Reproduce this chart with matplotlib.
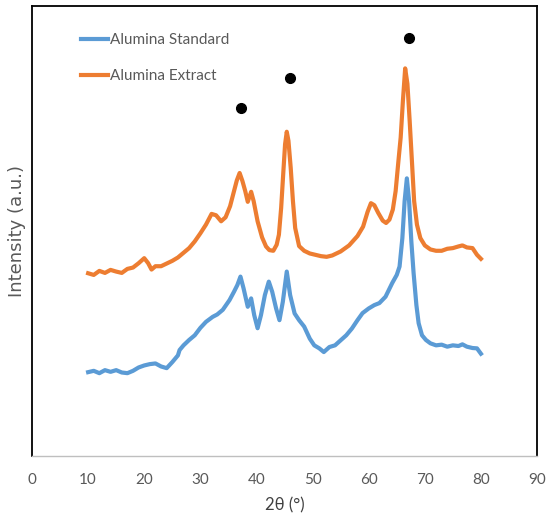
import matplotlib.pyplot as plt

# 2theta positions and intensities (arbitrary units)
extract_x = [10, 11, 12, 13, 14, 15, 16, 17, 18, 19, 20, 20.7, 21.3, 22, 23, 24, 25, 26, 27,
             28, 29, 30, 31, 32, 32.8, 33.7, 34.5, 35.3, 36, 36.5, 37, 37.5, 38, 38.45, 39.05,
             39.5, 40.2, 41, 41.7, 42.3, 43, 43.6, 44, 44.4, 44.8, 45.1, 45.4, 45.7, 46.1,
             46.5, 46.9, 47.6, 48.5, 49.5, 50.5, 51.5, 52.5, 53.5, 55, 56.5, 58, 59, 59.8,
             60.4, 61, 61.7, 62.5, 63.1, 63.7, 64.3, 64.8, 65.3, 65.7, 66.1, 66.5, 66.9,
             67.3, 67.7, 68.1, 68.6, 69.2, 70, 71, 72, 73, 74, 75, 76, 76.7, 77.5, 78.5,
             79.3, 80]
extract_y = [545, 540, 552, 546, 555, 550, 546, 558, 562, 575, 590, 575, 556, 566, 566, 574,
             582, 592, 606, 620, 640, 664, 690, 722, 718, 700, 712, 745, 790, 822, 844, 820,
             790, 758, 788, 760, 700, 652, 625, 614, 612, 630, 660, 740, 850, 930, 967, 940,
             860, 760, 680, 626, 612, 604, 600, 596, 594, 598, 610, 628, 656, 684, 728, 754,
             748, 725, 702, 695, 705, 735, 790, 880, 950, 1060, 1156, 1110, 1000, 880, 760,
             690, 650, 628, 616, 612, 612, 618, 620, 625, 628, 622, 620, 600, 588]

standard_x = [10, 11, 12, 13, 14, 15, 16, 17, 18, 19, 20, 21, 22, 23, 24, 25, 26, 26.3, 27,
              28, 29, 30, 31, 32.2, 33, 34, 35.2, 36, 36.6, 37.15, 37.7, 38.45, 39.05, 39.6,
              40.2, 40.8, 41.5, 42.2, 42.8, 43.5, 44.1, 44.7, 45.4, 46, 46.8, 47.6, 48.5,
              49.5, 50.3, 51.2, 52, 53, 54, 55, 56, 57, 58, 58.9, 60, 61, 61.9, 63, 64.2,
              65, 65.5, 66, 66.4, 66.8, 67.2, 67.6, 68, 68.5, 68.9, 69.5, 70.2, 71, 72, 73,
              74, 75, 76, 76.7, 77.5, 78.5, 79.3, 80]
standard_y = [250, 254, 247, 256, 251, 256, 249, 247, 254, 264, 270, 274, 276, 267, 262, 280,
              300, 316, 330, 346, 360, 382, 400, 415, 422, 436, 465, 490, 510, 535, 500, 445,
              470, 420, 381, 420, 480, 520, 490, 440, 405, 460, 550, 480, 425, 405, 386, 350,
              330, 321, 310, 325, 330, 345, 360, 380, 405, 426, 440, 450, 456, 475, 516, 540,
              565, 650, 760, 828, 760, 640, 546, 450, 396, 360, 346, 336, 330, 332, 326, 330,
              328, 333, 326, 322, 321, 305]

peak_x = [37.2, 45.9, 67.2]
peak_y = [1038, 1127, 1247]

x_ticks = list(range(0, 91, 10))

fig = plt.figure(figsize=(5.48, 5.24), dpi=100)
ax = fig.add_axes([0.0584, 0.1298, 0.9216, 0.8587])

ax.plot(standard_x, standard_y, color='#5B9BD5', lw=3, label='Alumina Standard')
ax.plot(extract_x, extract_y, color='#ED7D31', lw=3, label='Alumina Extract')
ax.plot(peak_x, peak_y, 'o', color='black', ms=7, label='_nolegend_')

ax.set_xlim(0, 90)
ax.set_ylim(0, 1342)
ax.set_xticks(x_ticks)
ax.set_yticks([])
ax.tick_params(axis='x', length=0, pad=12, labelcolor='#595959', labelsize=11)
for lab in ax.get_xticklabels():
    lab.set_fontfamily('Lato')

for side in ['left', 'top', 'right']:
    ax.spines[side].set_color('black')
    ax.spines[side].set_linewidth(1.3)
ax.spines['bottom'].set_color('#BFBFBF')
ax.spines['bottom'].set_linewidth(1.0)

ax.set_xlabel('2θ (°)', fontsize=12, color='#404040', family='Lato', labelpad=8)
ax.set_ylabel('Intensity (a.u.)', fontsize=13, color='#595959', family='DejaVu Sans', labelpad=4)

leg = ax.legend(loc='upper left', bbox_to_anchor=(0.07, 0.97), frameon=False,
                handlelength=1.75, handletextpad=0.15, labelspacing=1.45,
                prop={'family': 'Lato', 'size': 11})
for t in leg.get_texts():
    t.set_color('#595959')

fig.savefig('out.png', dpi=100)
